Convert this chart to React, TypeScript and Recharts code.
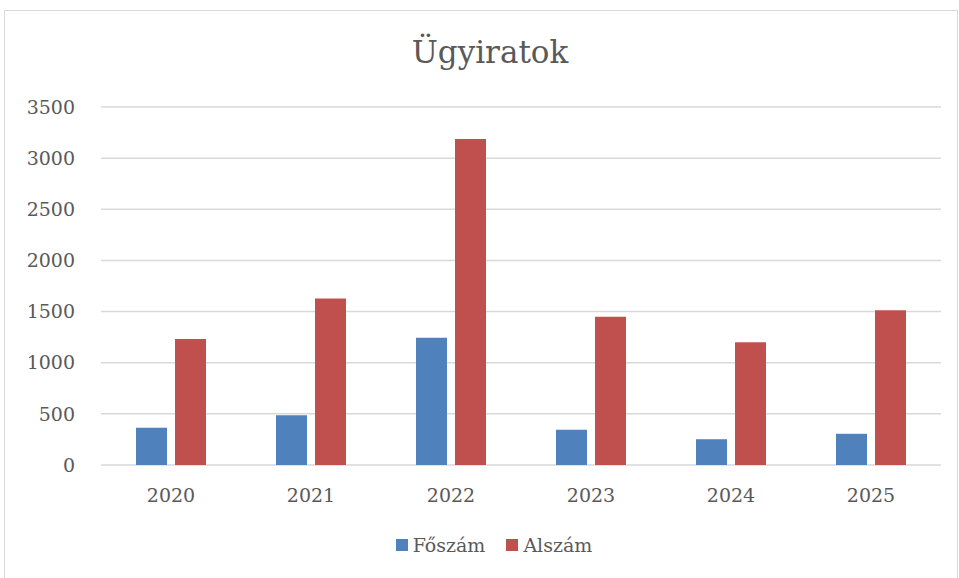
import React from 'react';
import { BarChart, Bar, XAxis, YAxis, CartesianGrid, Legend } from 'recharts';

// Years on the category axis
const years = ['2020', '2021', '2022', '2023', '2024', '2025'];
// Series values
const foszam = [364, 487, 1243, 344, 252, 305];
const alszam = [1232, 1628, 3186, 1449, 1200, 1513];
const yTicks = [0, 500, 1000, 1500, 2000, 2500, 3000, 3500];

const seriesKeys = ['foszam', 'alszam'];
const seriesNames = { foszam: 'Főszám', alszam: 'Alszám' };
const colors = { foszam: '#4F81BD', alszam: '#C0504D' };

const data = years.map((year, i) => ({
    year,
    foszam: foszam[i],
    alszam: alszam[i],
}));

const FONT = '"DejaVu Serif", serif';
const TEXT_COLOR = '#595959';

// Legend drawn like the Excel one: small square then the label
const renderLegend = (props: any) => {
    const payload = [...(props.payload || [])].sort(
        (a: any, b: any) => seriesKeys.indexOf(a.dataKey) - seriesKeys.indexOf(b.dataKey)
    );
    return (
        <div style={{ display: 'flex', justifyContent: 'center', alignItems: 'center' }}>
            {payload.map((entry: any, index: number) => (
                <div
                    key={`legend-${index}`}
                    style={{ display: 'flex', alignItems: 'center', marginRight: index === 0 ? 21 : 0 }}
                >
                    <span
                        style={{
                            display: 'inline-block',
                            width: 12,
                            height: 12,
                            background: entry.color,
                            marginRight: 5,
                        }}
                    />
                    <span style={{ fontFamily: FONT, fontSize: 19, color: TEXT_COLOR }}>{entry.value}</span>
                </div>
            ))}
        </div>
    );
};

const App: React.FC = () => {
    return (
        <div style={{ position: 'absolute', left: 0, top: 0, width: 959, height: 578, background: '#fff', overflow: 'hidden' }}>
            {/* chart frame */}
            <div
                style={{
                    position: 'absolute',
                    left: 4,
                    top: 10,
                    width: 952,
                    height: 620,
                    border: '1px solid #D9D9D9',
                }}
            />
            <div
                style={{
                    position: 'absolute',
                    left: 0,
                    top: 30,
                    width: 980,
                    textAlign: 'center',
                    fontFamily: FONT,
                    fontSize: 31,
                    color: TEXT_COLOR,
                    lineHeight: '44px',
                }}
            >
                Ügyiratok
            </div>
            <div style={{ position: 'absolute', left: 0, top: 0 }}>
                <BarChart
                    width={959}
                    height={578}
                    data={data}
                    margin={{ top: 107, right: 18, bottom: 83, left: 0 }}
                    barSize={31}
                    barGap={8}
                >
                    <CartesianGrid vertical={false} stroke="#D9D9D9" strokeWidth={1.5} />
                    <XAxis
                        dataKey="year"
                        height={30}
                        axisLine={false}
                        tickLine={false}
                        tickMargin={18}
                        tick={{ fill: TEXT_COLOR, fontSize: 19, fontFamily: FONT }}
                    />
                    <YAxis
                        width={101}
                        domain={[0, 3500]}
                        ticks={yTicks}
                        axisLine={false}
                        tickLine={false}
                        tickMargin={20}
                        tick={{ fill: TEXT_COLOR, fontSize: 19, fontFamily: FONT }}
                    />
                    <Legend
                        layout="horizontal"
                        verticalAlign="middle"
                        align="center"
                        content={renderLegend}
                        wrapperStyle={{ top: 534, left: 0, width: 988 }}
                    />
                    <Bar dataKey="foszam" name={seriesNames.foszam} fill={colors.foszam} isAnimationActive={false} />
                    <Bar dataKey="alszam" name={seriesNames.alszam} fill={colors.alszam} isAnimationActive={false} />
                </BarChart>
            </div>
        </div>
    );
};

export default App;
